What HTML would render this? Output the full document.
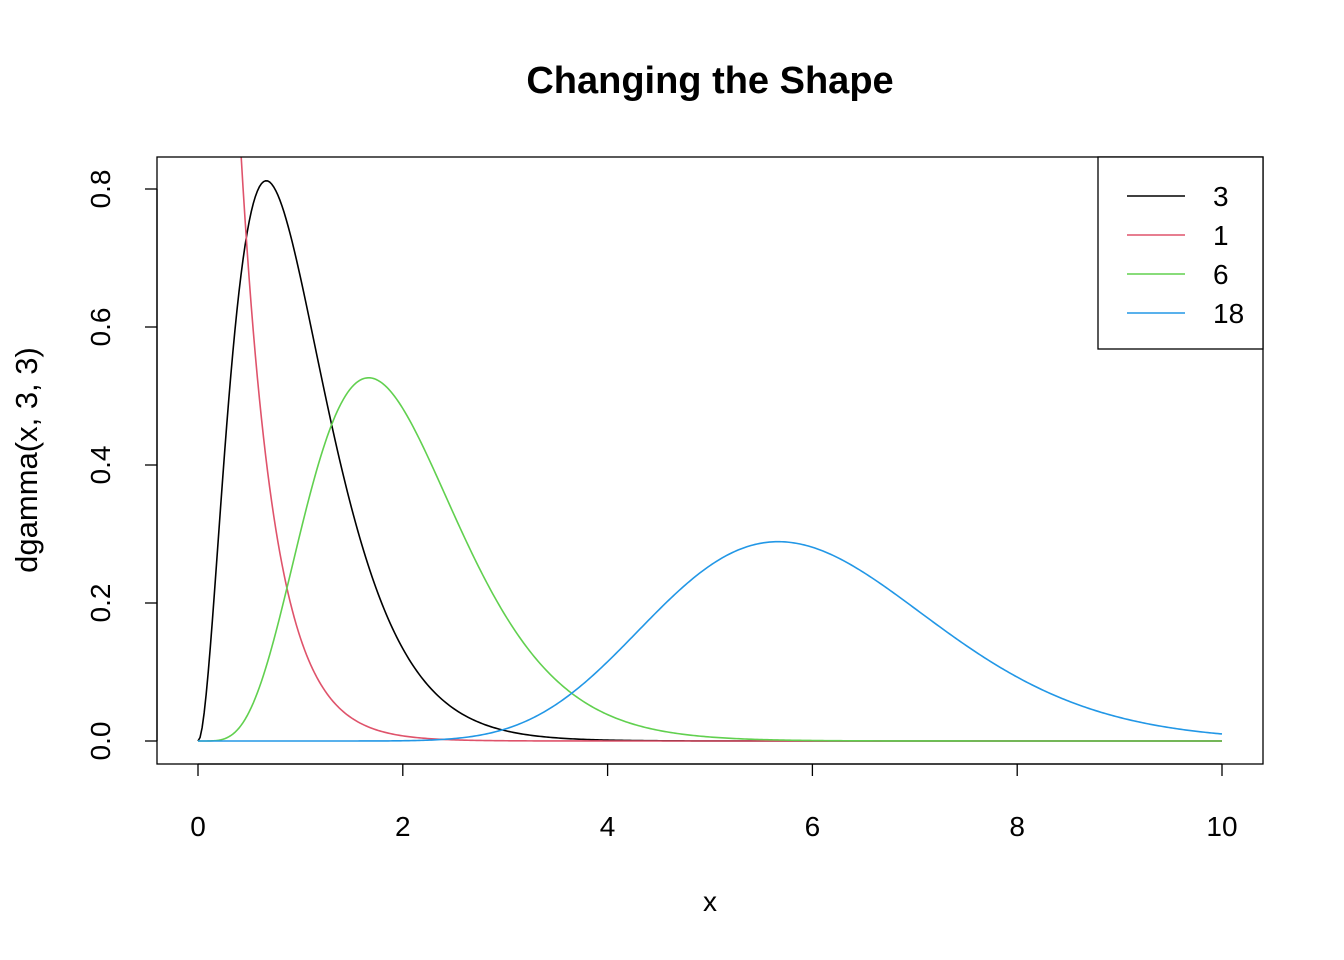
<!DOCTYPE html>
<html><head><meta charset="utf-8"><style>
html,body{margin:0;padding:0;background:#fff;}
svg{display:block;font-family:"Liberation Sans",Arial,sans-serif;}
</style></head><body>
<svg id="chart" width="1344" height="960" viewBox="0 0 1344 960">
<defs><clipPath id="plotclip"><rect x="157" y="157" width="1106" height="607"/></clipPath></defs>
<text x="710" y="93" text-anchor="middle" font-size="38" font-weight="bold">Changing the Shape</text>
<text x="710" y="911" text-anchor="middle" font-size="28">x</text>
<text transform="translate(37,460) rotate(-90)" text-anchor="middle" font-size="31">dgamma(x, 3, 3)</text>
<g id="xaxis"></g>
<g id="yaxis"></g>
<g id="series" clip-path="url(#plotclip)"></g>
<rect x="157" y="157" width="1106" height="607" fill="none" stroke="#000" stroke-width="1.3"/>
<g id="legend">
<rect x="1098" y="157" width="165" height="192" fill="#fff" stroke="#000" stroke-width="1.3"/>
</g>
</svg>
<script>
const shapes = [3, 1, 6, 18];
const rate = 3;
const legendLabels = ["3", "1", "6", "18"];
const colors = ["#000000", "#DF536B", "#61D04F", "#2297E6"];
const xTicks = [0, 2, 4, 6, 8, 10];
const yTicks = [0.0, 0.2, 0.4, 0.6, 0.8];
const yTickLabels = ["0.0", "0.2", "0.4", "0.6", "0.8"];
const xMin = 0, xMax = 10, nPts = 501;

const NS = "http://www.w3.org/2000/svg";
const sx = v => 198 + (v - 0) * (1222 - 198) / 10;
const sy = v => 741 - v * (741 - 189) / 0.8;

function lgamma(z){
  const g=7,c=[0.99999999999980993,676.5203681218851,-1259.1392167224028,771.32342877765313,-176.61502916214059,12.507343278686905,-0.13857109526572012,9.9843695780195716e-6,1.5056327351493116e-7];
  if(z<0.5) return Math.log(Math.PI/Math.sin(Math.PI*z))-lgamma(1-z);
  z-=1; let a=c[0]; const t=z+g+0.5;
  for(let i=1;i<g+2;i++) a+=c[i]/(z+i);
  return 0.5*Math.log(2*Math.PI)+(z+0.5)*Math.log(t)-t+Math.log(a);
}
function dgamma(x,k,r){
  if(x<=0) return k===1? r : 0;
  return Math.exp(k*Math.log(r)+(k-1)*Math.log(x)-r*x-lgamma(k));
}
function mk(tag, attrs, parent){
  const e=document.createElementNS(NS,tag);
  for(const k in attrs) e.setAttribute(k,attrs[k]);
  parent.appendChild(e); return e;
}
const xa=document.getElementById("xaxis");
mk("line",{x1:sx(xTicks[0]),x2:sx(xTicks[xTicks.length-1]),y1:764,y2:764,stroke:"#000","stroke-width":1.3},xa);
xTicks.forEach(t=>{
  const l=mk("line",{x1:sx(t),x2:sx(t),y1:764,y2:776,stroke:"#000","stroke-width":1.3},xa);
  
  
  const tx=mk("text",{x:sx(t),y:836,"text-anchor":"middle","font-size":28},xa);
  tx.textContent=String(t);
  
  
});
const ya=document.getElementById("yaxis");
mk("line",{x1:157,x2:157,y1:sy(yTicks[0]),y2:sy(yTicks[yTicks.length-1]),stroke:"#000","stroke-width":1.3},ya);
yTicks.forEach((t,i)=>{
  const l=mk("line",{x1:145,x2:157,y1:sy(t),y2:sy(t),stroke:"#000","stroke-width":1.3},ya);
  
  
  const tx=mk("text",{transform:`translate(110,${sy(t)}) rotate(-90)`,"text-anchor":"middle","font-size":28},ya);
  tx.textContent=yTickLabels[i];
  
  
});
const sg=document.getElementById("series");
shapes.forEach((k,i)=>{
  let d="";
  for(let j=0;j<nPts;j++){
    const x=xMin+(xMax-xMin)*j/(nPts-1);
    let y=dgamma(x,k,rate); if(y>5) y=5;
    d+=(j?"L":"M")+sx(x).toFixed(2)+","+sy(y).toFixed(2);
  }
  const p=mk("path",{d:d,fill:"none",stroke:colors[i],"stroke-width":1.6},sg);
  
  
});
const lg=document.getElementById("legend");
legendLabels.forEach((lab,i)=>{
  const y=196+i*39;
  const l=mk("line",{x1:1127,x2:1185,y1:y,y2:y,stroke:colors[i],"stroke-width":1.6},lg);
  
  
  const t=mk("text",{x:1213,y:y+10,"font-size":28},lg);
  t.textContent=lab;
  
  
});
</script>
</body></html>
